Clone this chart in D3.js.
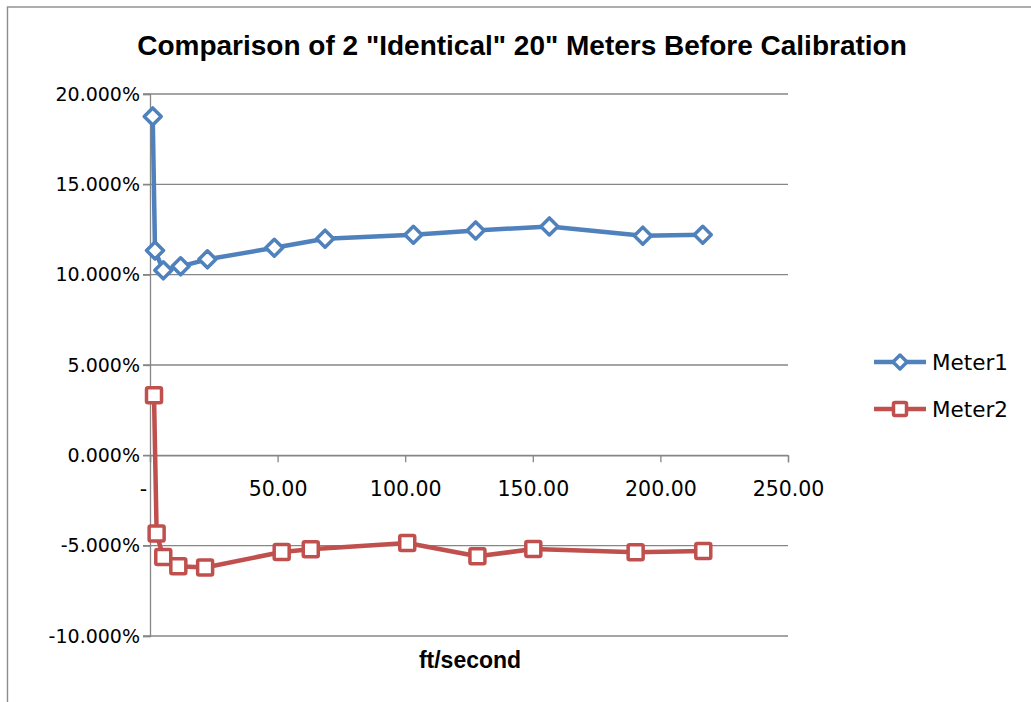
<!DOCTYPE html>
<html>
<head>
<meta charset="utf-8">
<script src="https://cdn.jsdelivr.net/npm/d3@7"></script>
<style>
  body { margin: 0; background: #fff; }
  svg { display: block; }
</style>
</head>
<body>
<script>
// values
var meter1X = [1.06, 1.96, 5.2, 12.0, 22.5, 48.7, 68.6, 103.2, 127.6, 156.5, 193.1, 216.6];
var meter1Y = [18.76, 11.34, 10.24, 10.46, 10.85, 11.49, 11.99, 12.21, 12.45, 12.67, 12.16, 12.21];
var meter2X = [1.57, 2.6, 5.2, 11.1, 21.6, 51.6, 63.0, 100.8, 128.3, 150.2, 190.3, 216.8];
var meter2Y = [3.32, -4.33, -5.63, -6.14, -6.21, -5.35, -5.20, -4.85, -5.59, -5.19, -5.37, -5.30];
var seriesNames = ["Meter1", "Meter2"];
var xTicks = [0, 50, 100, 150, 200, 250];
var yTicks = [-10, -5, 0, 5, 10, 15, 20];

var width = 1031,
    height = 702;

var svg = d3.select("body")
    .append("svg")
    .attr("width", width)
    .attr("height", height);

// chart frame
svg.append("rect")
    .attr("x", 7.5).attr("y", 7)
    .attr("width", 1040).attr("height", 720)
    .attr("fill", "none")
    .attr("stroke", "#8c8c8c")
    .attr("stroke-width", 1.4);

var x = d3.scaleLinear().domain([0, 250]).range([150, 788]);
var y = d3.scaleLinear().domain([-10, 20]).range([636, 94]);

var gridColor = "#868686";
var labelFont = "DejaVu Sans";

// horizontal gridlines
svg.selectAll(".grid")
    .data(yTicks)
    .enter()
    .append("line")
    .attr("class", "grid")
    .attr("x1", 143).attr("x2", x(250))
    .attr("y1", function(d){ return y(d); })
    .attr("y2", function(d){ return y(d); })
    .attr("stroke", gridColor)
    .attr("stroke-width", 1.3);

// y axis
var yAxis = d3.axisLeft(y)
    .tickValues(yTicks)
    .tickSize(7)
    .tickPadding(3)
    .tickFormat(function(d){ return d.toFixed(3).replace("\u2212", "-") + "%"; });

var gy = svg.append("g")
    .attr("transform", "translate(" + x(0) + ",0)")
    .call(yAxis);
gy.select(".domain").attr("stroke", gridColor).attr("stroke-width", 1.3);
gy.selectAll(".tick line").attr("stroke", gridColor).attr("stroke-width", 1.3);
gy.selectAll("text")
    .attr("font-family", labelFont)
    .attr("font-size", 19)
    .attr("fill", "#000");

// x axis crosses at 0%
var xAxis = d3.axisBottom(x)
    .tickValues(xTicks)
    .tickSize(7)
    .tickPadding(19)
    .tickFormat(function(d){ return d === 0 ? "-" : d.toFixed(2); });

var gx = svg.append("g")
    .attr("transform", "translate(0," + y(0) + ")")
    .call(xAxis);
gx.select(".domain").attr("stroke", gridColor).attr("stroke-width", 1.3);
gx.selectAll(".tick line").attr("stroke", gridColor).attr("stroke-width", 1.3);
gx.selectAll("text")
    .attr("font-family", labelFont)
    .attr("font-size", 20.5)
    .attr("fill", "#000");
gx.selectAll(".tick").filter(function(d){ return d === 0; })
    .select("text").attr("dx", -7);

// title and axis title
svg.append("text")
    .attr("x", 522).attr("y", 55)
    .attr("text-anchor", "middle")
    .attr("font-family", "Liberation Sans")
    .attr("font-weight", "bold")
    .attr("font-size", 28)
    .text("Comparison of 2 \"Identical\" 20\" Meters Before Calibration");

svg.append("text")
    .attr("x", 470).attr("y", 668)
    .attr("text-anchor", "middle")
    .attr("font-family", "Liberation Sans")
    .attr("font-weight", "bold")
    .attr("font-size", 23)
    .text("ft/second");

var series = [
    { name: seriesNames[0], xs: meter1X, ys: meter1Y, color: "#4F81BD", symbol: "diamond" },
    { name: seriesNames[1], xs: meter2X, ys: meter2Y, color: "#C0504D", symbol: "square" }
];

var line = d3.line()
    .x(function(d){ return x(d[0]); })
    .y(function(d){ return y(d[1]); });

function drawMarker(g, kind, color, big) {
    if (kind === "diamond") {
        var r = big ? 8.5 : 7;
        g.append("path")
            .attr("d", "M0," + (-r) + "L" + r + ",0L0," + r + "L" + (-r) + ",0Z")
            .attr("fill", "#fff")
            .attr("stroke", color)
            .attr("stroke-width", 3.5)
            .attr("stroke-linejoin", "round");
    } else {
        var s = big ? 7.5 : 6.5;
        g.append("rect")
            .attr("x", -s).attr("y", -s)
            .attr("width", 2 * s).attr("height", 2 * s)
            .attr("rx", 1.5)
            .attr("fill", "#fff")
            .attr("stroke", color)
            .attr("stroke-width", 3.5);
    }
}

series.forEach(function(s){
    var pts = s.xs.map(function(v, i){ return [v, s.ys[i]]; });
    svg.append("path")
        .datum(pts)
        .attr("d", line)
        .attr("fill", "none")
        .attr("stroke", s.color)
        .attr("stroke-width", 4.5)
        .attr("stroke-linejoin", "round");
    pts.forEach(function(p){
        var g = svg.append("g")
            .attr("transform", "translate(" + x(p[0]) + "," + y(p[1]) + ")");
        drawMarker(g, s.symbol, s.color, true);
    });
});

// legend
var legend = svg.selectAll(".legend")
    .data(series)
    .enter()
    .append("g")
    .attr("class", "legend")
    .attr("transform", function(d, i){ return "translate(874," + (362 + i * 47) + ")"; });

legend.append("line")
    .attr("x1", 0).attr("x2", 52)
    .attr("stroke", function(d){ return d.color; })
    .attr("stroke-width", 4.5);

legend.each(function(d){
    var g = d3.select(this).append("g").attr("transform", "translate(26,0)");
    drawMarker(g, d.symbol, d.color, false);
});

legend.append("text")
    .attr("x", 58).attr("y", 8)
    .attr("font-family", labelFont)
    .attr("font-size", 21.5)
    .text(function(d){ return d.name; });
</script>
</body>
</html>
